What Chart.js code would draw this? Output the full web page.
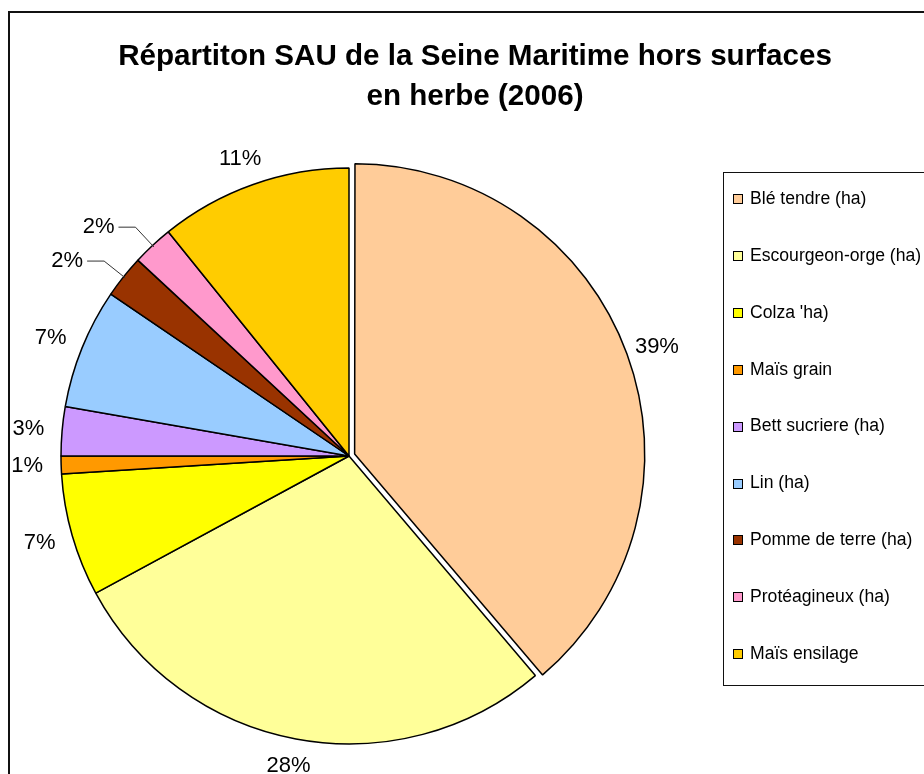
<!DOCTYPE html>
<html>
<head>
<meta charset="utf-8">
<script src="https://cdn.jsdelivr.net/npm/chart.js@4/dist/chart.umd.min.js"></script>
<style>
  html, body { margin: 0; padding: 0; background: #fff; }
  #wrap { width: 924px; height: 774px; position: relative; }
</style>
</head>
<body>
<div id="wrap"><canvas id="pie" width="924" height="774"></canvas></div>
<script>
// ── Data (parts en % de la SAU hors herbe) ──
const categories = [
  'Blé tendre (ha)',
  'Escourgeon-orge (ha)',
  "Colza 'ha)",
  'Maïs grain',
  'Bett sucriere (ha)',
  'Lin (ha)',
  'Pomme de terre (ha)',
  'Protéagineux (ha)',
  'Maïs ensilage',
];
const shares = [38.8, 28.3, 6.9, 1.0, 2.75, 6.75, 2.4, 2.3, 10.8];
const sliceColors = [
  '#FFCC99', '#FFFF99', '#FFFF00', '#FF9900', '#CC99FF',
  '#99CCFF', '#993300', '#FF99CC', '#FFCC00',
];
const titleLines = ['Répartiton SAU de la Seine Maritime hors surfaces', 'en herbe (2006)'];

// labels that Excel pulled out with a leader line
const leaderSlices = [6, 7];

const FONT = "'Liberation Sans', Arial, sans-serif";

// ── Plugin: cadre + titre ──
const framePlugin = {
  id: 'frame',
  beforeDraw(chart) {
    const ctx = chart.ctx;
    ctx.save();
    ctx.fillStyle = '#fff';
    ctx.fillRect(0, 0, chart.width, chart.height);
    ctx.strokeStyle = '#111';
    ctx.lineWidth = 2;
    ctx.strokeRect(9, 12, 1000, 1000);
    ctx.fillStyle = '#000';
    ctx.font = `bold 29.6px ${FONT}`;
    ctx.textAlign = 'center';
    ctx.textBaseline = 'middle';
    ctx.fillText(titleLines[0], 475, 57);
    ctx.fillText(titleLines[1], 475, 97);
    ctx.restore();
  },
};

// ── Plugin: étiquettes % à l'extérieur ──
const pctLabelsPlugin = {
  id: 'pctLabels',
  afterDatasetsDraw(chart) {
    const ctx = chart.ctx;
    const meta = chart.getDatasetMeta(0);
    const total = shares.reduce((a, b) => a + b, 0);
    ctx.save();
    ctx.font = `22px ${FONT}`;
    ctx.fillStyle = '#000';
    ctx.textBaseline = 'middle';
    meta.data.forEach((arc, i) => {
      const { x, y, startAngle, endAngle, outerRadius } = arc.getProps(
        ['x', 'y', 'startAngle', 'endAngle', 'outerRadius'], true);
      const a = (startAngle + endAngle) / 2;
      const cx = Math.cos(a), cy = Math.sin(a);
      const text = Math.round(shares[i] / total * 100) + '%';
      const w = ctx.measureText(text).width;
      const h = 18;

      if (leaderSlices.includes(i)) {
        const ex = x + cx * (outerRadius + 25);
        const ey = y + cy * (outerRadius + 25);
        ctx.strokeStyle = '#333';
        ctx.lineWidth = 1;
        ctx.beginPath();
        ctx.moveTo(x + cx * (outerRadius - 2), y + cy * (outerRadius - 2));
        ctx.lineTo(ex, ey);
        ctx.lineTo(ex - 17, ey);
        ctx.stroke();
        ctx.textAlign = 'right';
        ctx.fillText(text, ex - 21, ey);
        return;
      }

      const r = outerRadius + 18;
      const lx = x + cx * r + cx * w / 2;
      const ly = y + cy * r + cy * h / 2;
      ctx.textAlign = 'center';
      ctx.fillText(text, lx, ly);
    });
    ctx.restore();
  },
};

// ── Plugin: légende (boîte à droite) ──
const legendBoxPlugin = {
  id: 'legendBox',
  afterDraw(chart) {
    const ctx = chart.ctx;
    const ds = chart.data.datasets[0];
    ctx.save();
    ctx.strokeStyle = '#111';
    ctx.lineWidth = 1;
    ctx.strokeRect(723.5, 172.5, 400, 513);
    ctx.font = `17.6px ${FONT}`;
    ctx.textAlign = 'left';
    ctx.textBaseline = 'middle';
    chart.data.labels.forEach((lab, i) => {
      const yy = 199 + i * 56.9;
      ctx.fillStyle = ds.backgroundColor[i];
      ctx.fillRect(733.5, Math.round(yy) - 4.5, 9, 9);
      ctx.strokeStyle = '#000';
      ctx.strokeRect(733.5, Math.round(yy) - 4.5, 9, 9);
      ctx.fillStyle = '#000';
      ctx.fillText(lab, 750, yy);
    });
    ctx.restore();
  },
};

new Chart(document.getElementById('pie').getContext('2d'), {
  type: 'pie',
  data: {
    labels: categories,
    datasets: [{
      data: shares,
      backgroundColor: sliceColors,
      borderColor: '#000',
      borderWidth: 1.5,
      radius: 288,
      offset: [24, 0, 0, 0, 0, 0, 0, 0, 0],
    }],
  },
  plugins: [framePlugin, pctLabelsPlugin, legendBoxPlugin],
  options: {
    responsive: false,
    animation: false,
    layout: { padding: { left: 40, right: 266, top: 150, bottom: 12 } },
    plugins: {
      legend: { display: false },
      title: { display: false },
      tooltip: { enabled: false },
    },
  },
});
</script>
</body>
</html>
